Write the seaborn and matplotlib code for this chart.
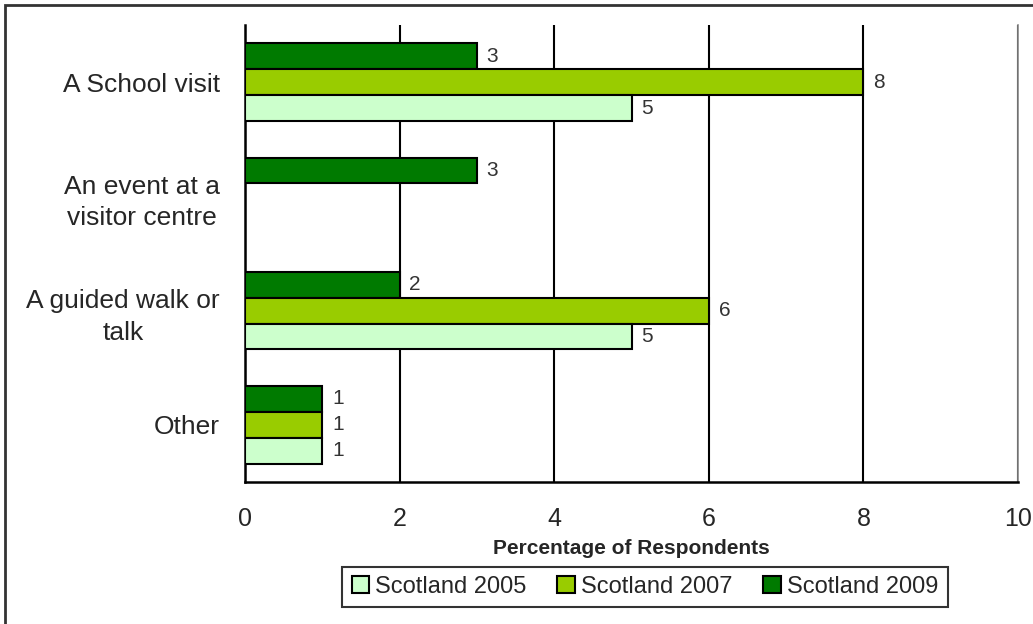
import numpy as np
import pandas as pd
import matplotlib
matplotlib.use("Agg")
import matplotlib.pyplot as plt
from matplotlib.patches import Rectangle
import seaborn as sns

# data
categories = ["A School visit", "An event at a\nvisitor centre", "A guided walk or\ntalk", "Other"]
years = ["Scotland 2005", "Scotland 2007", "Scotland 2009"]
val_2005 = [5, np.nan, 5, 1]
val_2007 = [8, np.nan, 6, 1]
val_2009 = [3, 3, 2, 1]
colors = {"Scotland 2005": "#CCFFCC", "Scotland 2007": "#99CC00", "Scotland 2009": "#007A00"}

rows = []
for year, vals in zip(years, [val_2005, val_2007, val_2009]):
    for cat, v in zip(categories, vals):
        if not np.isnan(v):
            rows.append({"category": cat, "year": year, "pct": v})
df = pd.DataFrame(rows)

sns.set_style("white")
plt.rcParams["font.family"] = ["Liberation Sans", "DejaVu Sans"]

fig = plt.figure(figsize=(10.33, 6.24), dpi=100)
ax = fig.add_axes([245 / 1033, 1 - 482 / 624, (1018 - 245) / 1033, (482 - 25) / 624])

hue_order = ["Scotland 2009", "Scotland 2007", "Scotland 2005"]
sns.barplot(data=df, y="category", x="pct", hue="year", order=categories,
            hue_order=hue_order, palette=colors, saturation=1, orient="h", width=0.68,
            edgecolor="black", linewidth=1.5, ax=ax, zorder=3, legend=False)

for c in ax.containers:
    ax.bar_label(c, labels=[f"{b.get_width():.0f}" for b in c], padding=7,
                 fontsize=15, color="#333333")

ax.set_xlim(0, 10)
ax.set_ylim(3.5, -0.5)
ax.set_xticks([0, 2, 4, 6, 8, 10])
ax.tick_params(axis="x", labelsize=18, length=8, width=1.5, color="black", direction="out", pad=10)
ax.set_yticks(range(len(categories)))
ax.set_yticklabels(categories, multialignment="center", linespacing=1.4)
ax.tick_params(axis="y", which="major", labelsize=19, length=0, pad=18)
ax.set_yticks([-0.5, 0.5, 1.5, 2.5, 3.5], minor=True)
ax.tick_params(axis="y", which="minor", length=8, width=1.5, color="black", direction="out")
ax.grid(axis="x", color="black", linewidth=1.5, zorder=0)
ax.grid(axis="y", visible=False)
for s in ["left", "bottom"]:
    ax.spines[s].set_color("black")
    ax.spines[s].set_linewidth(1.8)
ax.spines["top"].set_visible(False)
ax.spines["right"].set_color("#888888")
ax.spines["right"].set_linewidth(1.2)
ax.set_ylabel("")
ax.set_xlabel("Percentage of Respondents", fontsize=15, fontweight="bold", labelpad=6)

handles = [Rectangle((0, 0), 1, 1, facecolor=colors[y], edgecolor="black", linewidth=1.5) for y in years]
leg = fig.legend(handles, years, loc="center", bbox_to_anchor=(645 / 1033, 1 - 587 / 624),
                 ncol=3, fontsize=17, frameon=True, fancybox=False, edgecolor="black",
                 handlelength=0.75, handleheight=0.75, handletextpad=0.25, columnspacing=1.3,
                 borderpad=0.4, borderaxespad=0)
leg.get_frame().set_linewidth(1.5)

fig.patches.append(Rectangle((5 / 1033, -0.1), 1.2, 1.1 - 5 / 624, transform=fig.transFigure,
                             fill=False, edgecolor="#333333", linewidth=2))

fig.savefig("out.png", dpi=100)
